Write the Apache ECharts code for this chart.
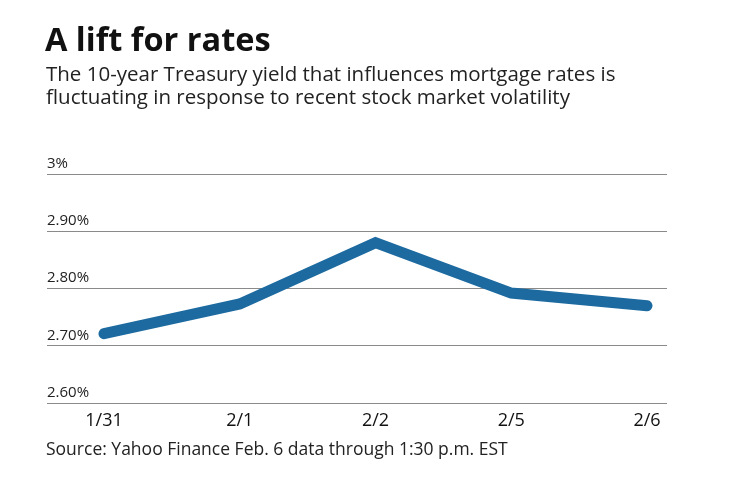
<!DOCTYPE html>
<html>
<head>
<meta charset="utf-8">
<script src="https://cdn.jsdelivr.net/npm/echarts@6/dist/echarts.min.js"></script>
<style>
  html, body { margin: 0; padding: 0; background: #fff; }
  #chart { width: 740px; height: 482px; }
</style>
</head>
<body>
<div id="chart"></div>
<script>
// trading days shown on the x axis
const days = ['1/31', '2/1', '2/2', '2/5', '2/6'];
// 10-year Treasury yield, percent
const yields = [2.721, 2.773, 2.880, 2.792, 2.770];
// y axis range and step
const yMin = 2.6;
const yMax = 3.0;
const yStep = 0.1;

const FONT = '"Open Sans"';
const lineBlue = '#1c6aa0';

const chart = echarts.init(document.getElementById('chart'));

const pctLabel = (v) => (Math.abs(v - 3) < 1e-9 ? '3%' : v.toFixed(2) + '%');

chart.setOption({
  animation: false,
  backgroundColor: '#fff',
  textStyle: { fontFamily: FONT },
  title: [
    {
      text: 'A lift for rates',
      left: 45, top: 25, padding: 0,
      textStyle: { fontFamily: FONT, fontSize: 32.5, fontWeight: 'bold', color: '#111' }
    },
    {
      text: 'The 10-year Treasury yield that influences mortgage rates is\nfluctuating in response to recent stock market volatility',
      left: 46, top: 64, padding: 0,
      textStyle: { fontFamily: FONT, fontSize: 20.5, fontWeight: 'normal', color: '#222', lineHeight: 22.5 }
    },
    {
      text: 'Source: Yahoo Finance Feb. 6 data through 1:30 p.m. EST',
      left: 46, top: 439, padding: 0,
      textStyle: { fontFamily: FONT, fontSize: 17.5, fontWeight: 'normal', color: '#222', lineHeight: 22 }
    }
  ],
  grid: [
    // grid for the horizontal rules and percent labels
    { left: 47, right: 73, top: 174, bottom: 79 },
    // grid for the line itself, inset so points sit over the day labels
    { left: 104, right: 93, top: 174, bottom: 79 }
  ],
  xAxis: [
    { gridIndex: 0, type: 'value', show: false, min: 0, max: 1 },
    {
      gridIndex: 1,
      type: 'category',
      data: days,
      boundaryGap: false,
      axisLine: { show: false },
      axisTick: { show: false },
      axisLabel: { fontFamily: FONT, fontSize: 18, color: '#111', margin: 9 }
    }
  ],
  yAxis: [
    {
      gridIndex: 0,
      type: 'value',
      min: yMin, max: yMax, interval: yStep,
      axisLine: { show: false },
      axisTick: { show: false },
      splitLine: { lineStyle: { color: '#8a8a8a', width: 1 } },
      axisLabel: {
        inside: true,
        margin: 0,
        verticalAlign: 'bottom',
        padding: [0, 0, 3, 0],
        fontFamily: FONT, fontSize: 15, color: '#222',
        formatter: pctLabel
      }
    },
    { gridIndex: 1, type: 'value', min: yMin, max: yMax, show: false }
  ],
  series: [
    {
      type: 'line',
      xAxisIndex: 1,
      yAxisIndex: 1,
      data: yields,
      symbol: 'none',
      lineStyle: { color: lineBlue, width: 11, cap: 'round', join: 'miter' }
    }
  ]
});
</script>
</body>
</html>
